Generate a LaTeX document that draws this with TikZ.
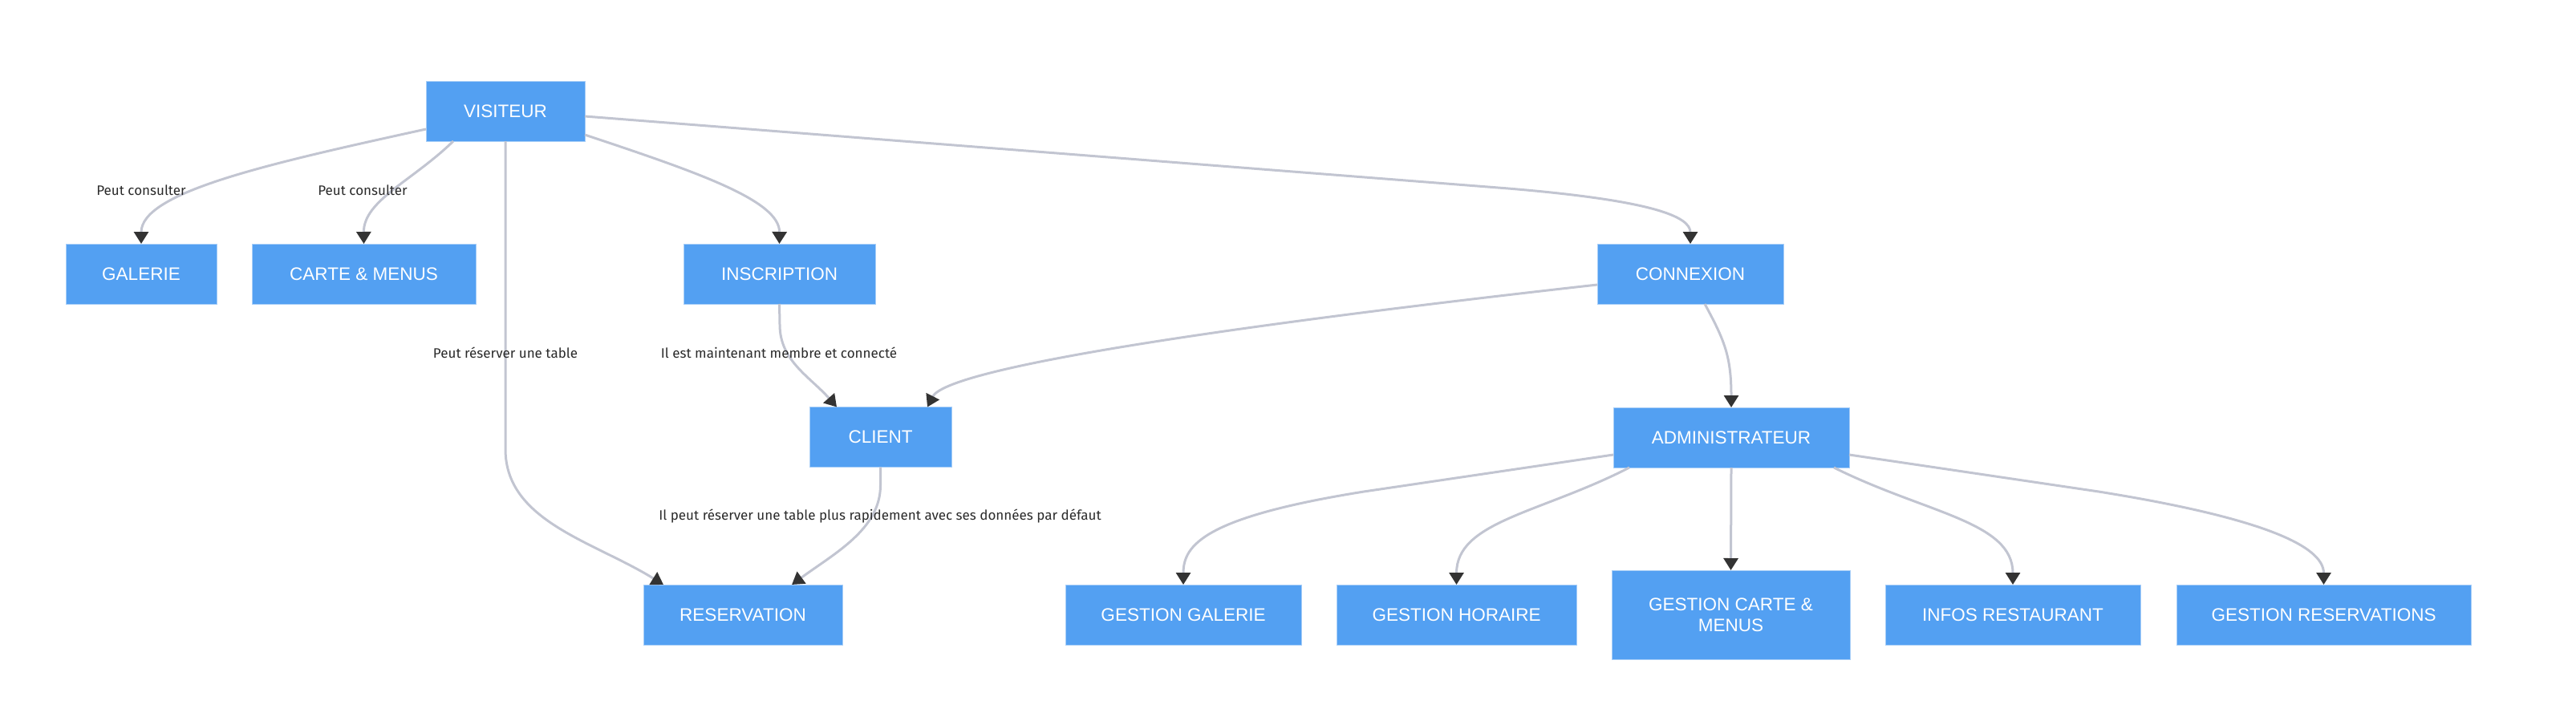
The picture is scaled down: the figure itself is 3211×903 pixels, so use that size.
\documentclass[tikz,border=0pt]{standalone}
\usepackage{fontspec}
\setmainfont{Liberation Sans}
\newfontfamily\labelfont{Fira Sans}
\usetikzlibrary{arrows.meta,calc}
\definecolor{nodeblue}{HTML}{53A0F2}
\definecolor{nodeedge}{HTML}{A8CEF7}
\definecolor{linegray}{HTML}{C2C5D1}
\definecolor{tipdark}{HTML}{333333}
\definecolor{labeltext}{HTML}{2B2B2B}
\tikzset{
  box/.style={rectangle, fill=nodeblue, draw=nodeedge, line width=1pt, inner sep=0pt, outer sep=0pt,
    minimum height=75pt, text=white, font=\fontsize{22.5}{26}\selectfont, align=center},
  conn/.style={draw=linegray, line width=3pt, -{Triangle[length=15pt,width=18pt,color=tipdark]}},
  elabel/.style={text=labeltext, font=\labelfont\fontsize{17}{20}\selectfont, inner sep=0pt}
}
\begin{document}
\begin{tikzpicture}[x=1pt,y=-1pt]
\useasboundingbox (0,0) rectangle (3211,903);
% nodes
\node[box, minimum width=198pt] (vis) at (630,138.5) {VISITEUR};
\node[box, minimum width=188pt] (gal) at (176,341.5) {GALERIE};
\node[box, minimum width=279pt] (carte) at (453.5,341.5) {CARTE \& MENUS};
\node[box, minimum width=239pt] (insc) at (971.5,341.5) {INSCRIPTION};
\node[box, minimum width=232pt] (cnx) at (2107,341.5) {CONNEXION};
\node[box, minimum width=177pt] (client) at (1097.5,545) {CLIENT};
\node[box, minimum width=248pt] (resa) at (926,766.5) {RESERVATION};
\node[box, minimum width=294pt] (admin) at (2158,545.5) {ADMINISTRATEUR};
\node[box, minimum width=294pt] (gg) at (1475,766.5) {GESTION GALERIE};
\node[box, minimum width=299pt] (gh) at (1815.5,766.5) {GESTION HORAIRE};
\node[box, minimum width=297pt, minimum height=111pt] (gcm) at (2157.5,766.5) {GESTION CARTE \&\\MENUS};
\node[box, minimum width=318pt] (ir) at (2509,766.5) {INFOS RESTAURANT};
\node[box, minimum width=367pt] (gr) at (2896.5,766.5) {GESTION RESERVATIONS};
% connectors
\draw[conn] ($(vis.west)+(0,22.5)$) .. controls (330,205) and (176,240) .. (gal.north);
\draw[conn] ($(vis.south)+(-65,0)$) .. controls (515,225) and (453,250) .. (carte.north);
\draw[conn] (vis.south) -- (630,560) .. controls (630,650) and (740,675) .. ($(resa.north)+(-99,0)$);
\draw[conn] ($(vis.east)+(0,29.5)$) .. controls (870,215) and (972,250) .. (insc.north);
\draw[conn] ($(vis.east)+(0,6.5)$) -- (1880,235) .. controls (2060,250) and (2107,270) .. (cnx.north);
\draw[conn] (insc.south) -- (972,405) .. controls (972,450) and (1010,470) .. ($(client.north)+(-54.5,0)$);
\draw[conn] ($(cnx.west)+(0,13.5)$) .. controls (1500,410) and (1180,460) .. ($(client.north)+(58.5,0)$);
\draw[conn] ($(cnx.south)+(18,0)$) .. controls (2150,425) and (2158,445) .. (admin.north);
\draw[conn] (client.south) -- (1097.5,605) .. controls (1097.5,660) and (1040,690) .. ($(resa.north)+(61,0)$);
\draw[conn] ($(admin.west)+(0,21.5)$) -- (1700,613) .. controls (1500,645) and (1475,680) .. (gg.north);
\draw[conn] ($(admin.south)+(-127,0)$) .. controls (1920,640) and (1815.5,650) .. (gh.north);
\draw[conn] (admin.south) -- (gcm.north);
\draw[conn] ($(admin.south)+(128,0)$) .. controls (2400,640) and (2509,650) .. (ir.north);
\draw[conn] ($(admin.east)+(0,21.5)$) -- (2616,613) .. controls (2816,645) and (2896.5,680) .. (gr.north);
% labels
\node[elabel] (l1) at (176,237) {Peut consulter};
\node[elabel] (l2) at (452,237) {Peut consulter};
\node[elabel] (l3) at (630,440) {Peut réserver une table};
\node[elabel] (l4) at (971,440) {Il est maintenant membre et connecté};
\node[elabel] (l5) at (1097,643) {Il peut réserver une table plus rapidement avec ses données par défaut};
\end{tikzpicture}
\end{document}
